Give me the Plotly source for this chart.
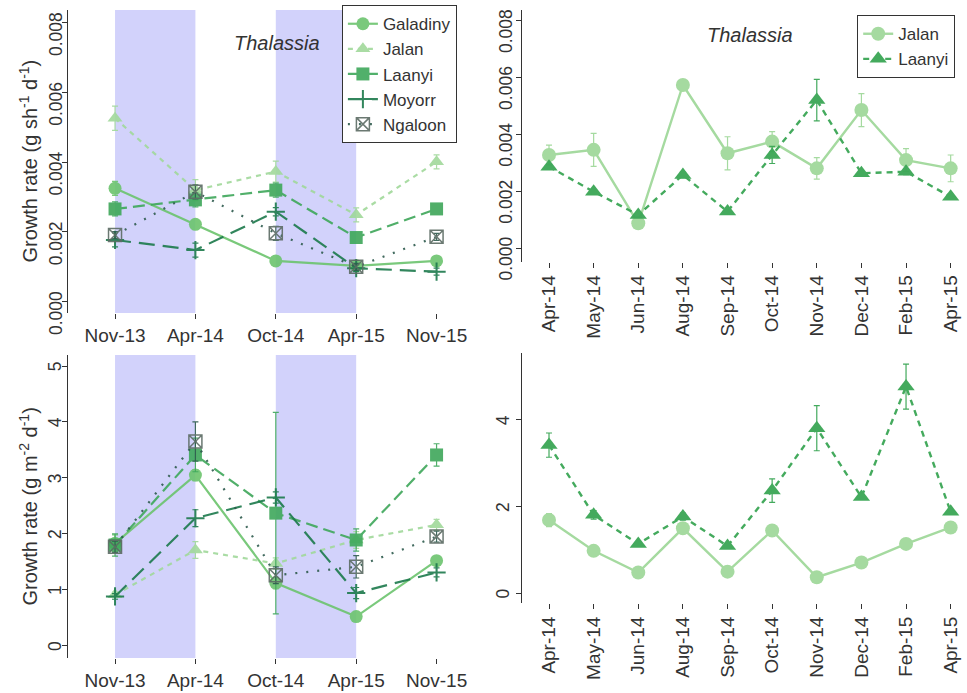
import plotly.graph_objects as go

# ---------------- data ----------------
sites_left = ["Galadiny", "Jalan", "Laanyi", "Moyorr", "Ngaloon"]
dates_left = ["Nov-13", "Apr-14", "Oct-14", "Apr-15", "Nov-15"]

# per shoot growth (g sh-1 d-1), left panel
sh_galadiny = [0.00325, 0.00222, 0.00117, 0.00103, 0.00117]
sh_jalan = [0.00526, 0.00320, 0.00373, 0.00249, 0.00401]
sh_laanyi = [0.00266, 0.00292, 0.00320, 0.00184, 0.00266]
sh_moyorr = [0.00177, 0.00148, 0.00258, 0.00096, 0.00086]
sh_ngaloon = [0.00191, 0.00315, 0.00196, 0.00100, 0.00186]
sh_err_galadiny = [0.00020, 0.00010, 0.00008, 0.00008, 0.00008]
sh_err_jalan = [0.00035, 0.00030, 0.00030, 0.00020, 0.00020]
sh_err_laanyi = [0.00020, 0.00020, 0.00020, 0.00010, 0.00010]
sh_err_moyorr = [0.00020, 0.00020, 0.00012, 0.00010, 0.00010]
sh_err_ngaloon = [0.00010, 0.00020, 0.00020, 0.00010, 0.00010]

# areal growth (g m-2 d-1), left panel
m2_galadiny = [1.83, 3.05, 1.12, 0.52, 1.52]
m2_jalan = [0.91, 1.71, 1.47, 1.89, 2.16]
m2_laanyi = [1.80, 3.41, 2.37, 1.89, 3.41]
m2_moyorr = [0.88, 2.28, 2.65, 0.94, 1.31]
m2_ngaloon = [1.77, 3.65, 1.26, 1.41, 1.95]
m2_err_galadiny = [0.15, 0.10, 0.10, 0.05, 0.05]
m2_err_jalan = [0.05, 0.15, 0.10, 0.15, 0.10]
m2_err_laanyi = [0.20, 0.30, 1.80, 0.20, 0.20]
m2_err_moyorr = [0.05, 0.15, 0.10, 0.10, 0.08]
m2_err_ngaloon = [0.10, 0.35, 0.15, 0.20, 0.10]

# monthly panels (right)
dates_right = ["Apr-14", "May-14", "Jun-14", "Aug-14", "Sep-14",
               "Oct-14", "Nov-14", "Dec-14", "Feb-15", "Apr-15"]
r_sh_jalan = [0.00328, 0.00346, 0.00088, 0.00574, 0.00334,
              0.00375, 0.00281, 0.00486, 0.00310, 0.00281]
r_sh_laanyi = [0.00287, 0.00199, 0.00117, 0.00258, 0.00129,
               0.00328, 0.00521, 0.00264, 0.00269, 0.00181]
r_sh_err_jalan = [0.00035, 0.00058, 0.00005, 0.00005, 0.00058,
                  0.00035, 0.00038, 0.00058, 0.00040, 0.00047]
r_sh_err_laanyi = [0.00010, 0.00005, 0.00005, 0.00010, 0.00005,
                   0.00030, 0.00073, 0.00005, 0.00010, 0.00005]
r_m2_jalan = [1.69, 0.98, 0.48, 1.50, 0.50, 1.45, 0.37, 0.71, 1.14, 1.52]
r_m2_laanyi = [3.42, 1.81, 1.14, 1.77, 1.09, 2.37, 3.81, 2.22, 4.77, 1.88]
r_m2_err_jalan = [0.15, 0.03, 0.03, 0.05, 0.03, 0.05, 0.03, 0.03, 0.03, 0.05]
r_m2_err_laanyi = [0.28, 0.10, 0.05, 0.08, 0.05, 0.27, 0.52, 0.05, 0.52, 0.05]

wet_seasons = [("Nov-13", "Apr-14"), ("Oct-14", "Apr-15")]

# ---------------- styles ----------------
W, H = 967, 693
FONT = "Liberation Sans, Arial, Helvetica, sans-serif"
TXT = "#333333"
BAND = "rgba(210,210,251,1)"
colors = {"Galadiny": "#6cc46e", "Jalan": "#a1d99b", "Laanyi": "#3fa85b",
          "Moyorr": "#1c7a4c", "Ngaloon": "#2e5b4e"}
dashes = {"Galadiny": "solid", "Jalan": "5px,5px", "Laanyi": "12px,6px",
          "Moyorr": "16px,8px", "Ngaloon": "2px,9px"}
symbols = {"Galadiny": "circle", "Jalan": "triangle-up", "Laanyi": "square",
           "Moyorr": "cross-thin", "Ngaloon": "square-x-open"}

def px2x(p):
    return p / W

def px2y(p):
    return 1 - p / H

fig = go.Figure()

left_sh = [sh_galadiny, sh_jalan, sh_laanyi, sh_moyorr, sh_ngaloon]
left_sh_err = [sh_err_galadiny, sh_err_jalan, sh_err_laanyi, sh_err_moyorr, sh_err_ngaloon]
left_m2 = [m2_galadiny, m2_jalan, m2_laanyi, m2_moyorr, m2_ngaloon]
left_m2_err = [m2_err_galadiny, m2_err_jalan, m2_err_laanyi, m2_err_moyorr, m2_err_ngaloon]
xl = list(range(1, len(dates_left) + 1))
xr = list(range(1, len(dates_right) + 1))

for (xa, ya, data, errs, show) in [("x", "y", left_sh, left_sh_err, True),
                                    ("x3", "y3", left_m2, left_m2_err, False)]:
    for site, vals, err in zip(sites_left, data, errs):
        c = colors[site]
        mk = dict(symbol=symbols[site], size=13, color=c,
                  line=dict(width=2 if "cross" in symbols[site] else 0, color=c))
        if site == "Ngaloon":
            mk["color"] = "#5b6b63"
            mk["line"] = dict(width=1.5, color="#5b6b63")
        fig.add_trace(go.Scatter(
            x=xl, y=vals, name=site, mode="lines+markers",
            xaxis=xa, yaxis=ya, showlegend=show, legend="legend",
            line=dict(color=c, width=2.2, dash=dashes[site]),
            marker=mk, opacity=0.9,
            error_y=dict(type="data", array=err, color=c, thickness=1.2, width=3),
        ))

right_sets = [("x2", "y2", [r_sh_jalan, r_sh_laanyi], [r_sh_err_jalan, r_sh_err_laanyi], True),
              ("x4", "y4", [r_m2_jalan, r_m2_laanyi], [r_m2_err_jalan, r_m2_err_laanyi], False)]
right_style = {"Jalan": ("#a1d99b", "solid", "circle", 14),
               "Laanyi": ("#3aa655", "6px,5px", "triangle-up", 15)}
for (xa, ya, data, errs, show) in right_sets:
    for site, vals, err in zip(["Jalan", "Laanyi"], data, errs):
        c, d, s, sz = right_style[site]
        fig.add_trace(go.Scatter(
            x=xr, y=vals, name=site, mode="lines+markers",
            xaxis=xa, yaxis=ya, showlegend=show, legend="legend2",
            line=dict(color=c, width=2.4, dash=d),
            marker=dict(symbol=s, size=sz, color=c), opacity=0.95,
            error_y=dict(type="data", array=err, color=c, thickness=1.2, width=3),
        ))

# wet-season bands
for xa, ya in [("x", "y"), ("x3", "y3")]:
    for a, b in wet_seasons:
        fig.add_shape(type="rect", xref=xa, yref=ya + " domain",
                      x0=dates_left.index(a) + 1, x1=dates_left.index(b) + 1,
                      y0=0, y1=1, fillcolor=BAND, line=dict(width=0), layer="below")

xaxis_common = dict(showgrid=False, zeroline=False, automargin=False, showline=False,
                    tickfont=dict(family=FONT, size=19, color=TXT),
                    ticks="outside", tickcolor=TXT, ticklen=5)
yaxis_common = dict(showgrid=False, zeroline=False, automargin=False,
                    showline=True, linecolor=TXT, linewidth=1, tickangle=-90,
                    tickfont=dict(family=FONT, size=17.5, color=TXT),
                    ticks="outside", tickcolor=TXT, ticklen=5,
                    ticklabeloverflow="allow")

# domains measured in pixels
dom_xl = [px2x(68), px2x(483.6)]
dom_xr = [px2x(521.7), 1.0]
dom_y1 = [px2y(313), px2y(10)]
dom_y2 = [px2y(261.7), px2y(10)]
dom_y3 = [px2y(658), px2y(355)]
dom_y4 = [px2y(603), px2y(353)]

sh_ticks = [0, 0.002, 0.004, 0.006, 0.008]
legend_style = dict(xanchor="right", yanchor="top", bgcolor="white",
                    bordercolor=TXT, borderwidth=1.2, itemwidth=30,
                    font=dict(family=FONT, size=17, color=TXT))

def ann(text, x, y, size=20, angle=0):
    return dict(text=text, x=px2x(x), y=px2y(y), xref="paper", yref="paper",
                xanchor="center", yanchor="middle", textangle=angle,
                showarrow=False, font=dict(family=FONT, size=size, color=TXT))

fig.update_layout(
    width=W, height=H, margin=dict(l=0, r=0, t=0, b=0),
    paper_bgcolor="white", plot_bgcolor="white",
    font=dict(family=FONT, color=TXT),
    xaxis=dict(domain=dom_xl, anchor="y", range=[0.415, 5.585],
               tickvals=xl, ticktext=dates_left, **xaxis_common),
    yaxis=dict(domain=dom_y1, anchor="x", range=[-0.000324, 0.008364],
               tickvals=sh_ticks, tickformat=".3f", ticklabelshift=14,
               ticklabelstandoff=-7, **yaxis_common),
    xaxis2=dict(domain=dom_xr, anchor="y2", range=[0.388, 10.366],
                tickvals=xr, ticktext=dates_right, tickangle=-90, **xaxis_common),
    yaxis2=dict(domain=dom_y2, anchor="x2", range=[-0.000471, 0.008376],
                tickvals=sh_ticks, tickformat=".3f", ticklabelshift=13,
                ticklabelstandoff=-3, **yaxis_common),
    xaxis3=dict(domain=dom_xl, anchor="y3", range=[0.415, 5.585],
                tickvals=xl, ticktext=dates_left, **xaxis_common),
    yaxis3=dict(domain=dom_y3, anchor="x3", range=[-0.22, 5.197],
                tickvals=[0, 1, 2, 3, 4, 5], ticklabelshift=3,
                ticklabelstandoff=-6, **yaxis_common),
    xaxis4=dict(domain=dom_xr, anchor="y4", range=[0.388, 10.366],
                tickvals=xr, ticktext=dates_right, tickangle=-90, **xaxis_common),
    yaxis4=dict(domain=dom_y4, anchor="x4", range=[-0.224, 5.546],
                tickvals=[0, 2, 4], ticklabelshift=3, **yaxis_common),
    legend=dict(x=px2x(456.7), y=px2y(5), **legend_style),
    legend2=dict(x=px2x(955), y=px2y(15), **legend_style),
    annotations=[
        ann("<i>Thalassia</i>", 277, 43),
        ann("<i>Thalassia</i>", 750, 35),
        ann("Growth rate (g sh<sup>-1</sup> d<sup>-1</sup>)", 28, 161.5, angle=-90),
        ann("Growth rate (g m<sup>-2</sup> d<sup>-1</sup>)", 28, 506.5, angle=-90),
    ],
)

fig.write_html("out.html", config={"displayModeBar": False},
               post_script="document.body.style.margin='0';document.body.style.overflow='hidden';")
